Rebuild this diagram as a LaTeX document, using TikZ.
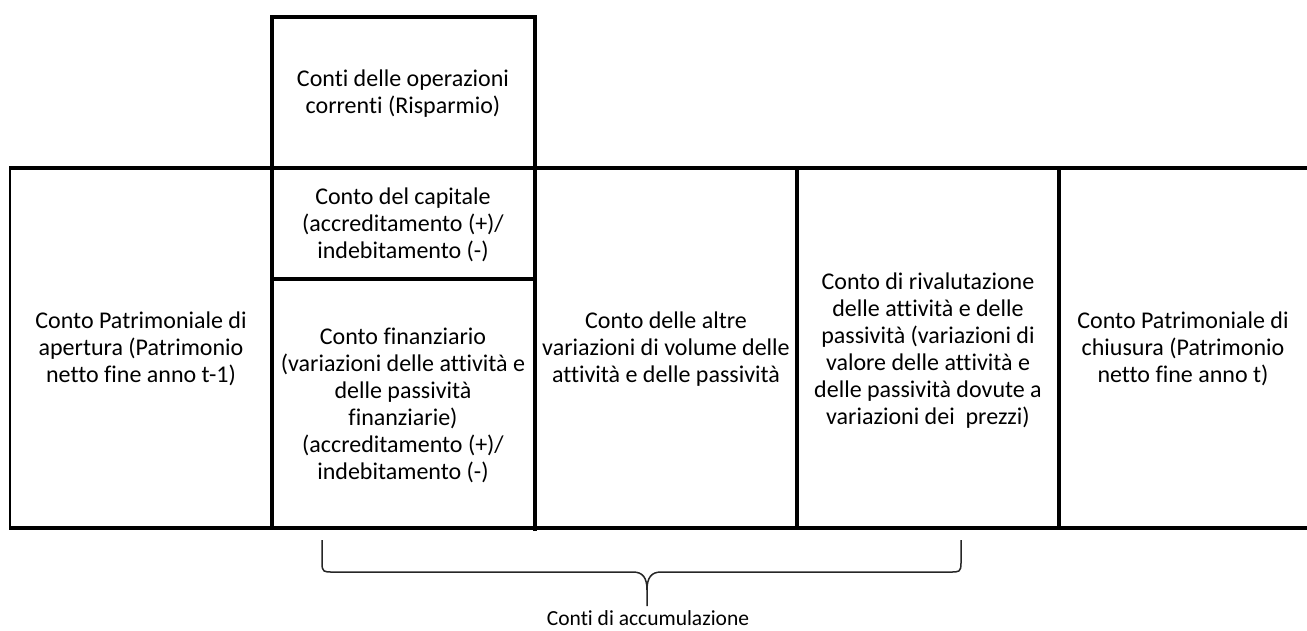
\documentclass[tikz,border=0pt]{standalone}
\usepackage{fontspec}
\setmainfont{Carlito}[Ligatures=NoCommon]
\begin{document}
\begin{tikzpicture}[x=1pt,y=-1pt,
  thickline/.style={line width=4pt, line cap=butt},
  thinline/.style={line width=2pt, line cap=butt},
  celltext/.style={align=center, font=\fontsize{24}{27}\selectfont, inner sep=0pt},
  labeltext/.style={align=center, font=\fontsize{21.5}{25}\selectfont, inner sep=0pt},
  bracestyle/.style={line width=1.5pt, line join=round, draw=black!85}]
\useasboundingbox (0,0) rectangle (1307,630);
% frame lines
\draw[thinline] (10,166) -- (10,530);
\draw[thickline] (9,168) -- (1307,168);
\draw[thickline] (9,528) -- (1307,528);
\draw[thickline] (272,15) -- (272,530);
\draw[thickline] (535,15) -- (535,531);
\draw[thickline] (797,166) -- (797,530);
\draw[thickline] (1059,166) -- (1059,530);
\draw[thickline] (270,17) -- (537,17);
\draw[thickline] (272,279) -- (535,279);
% texts
\node[celltext] (open) at (141,349) {Conto Patrimoniale di\\apertura (Patrimonio\\netto fine anno t-1)};
\node[celltext] (curr) at (403,94) {Conti delle operazioni\\correnti (Risparmio)};
\node[celltext] (cap) at (403,225) {Conto del capitale\\(accreditamento (+)/\\indebitamento (-)};
\node[celltext] (fin) at (403,405) {Conto finanziario\\(variazioni delle attività e\\delle passività\\finanziarie)\\(accreditamento (+)/\\indebitamento (-)};
\node[celltext] (vol) at (666,349) {Conto delle altre\\variazioni di volume delle\\attività e delle passività};
\node[celltext] (riv) at (928,351) {Conto di rivalutazione\\delle attività e delle\\passività (variazioni di\\valore delle attività e\\delle passività dovute a\\variazioni dei\ \ prezzi)};
\node[celltext] (close) at (1183,349) {Conto Patrimoniale di\\chiusura (Patrimonio\\netto fine anno t)};
% brace
\coordinate (bl) at (322,540);
\coordinate (br) at (961,540);
\coordinate (tip) at (647,606);
\draw[bracestyle] (bl) -- (322,563) .. controls (322,572) and (324,572) .. (332,572) -- (633,572) .. controls (643,572) and (647,578) .. (647,590) -- (tip);
\draw[bracestyle] (br) -- (961,563) .. controls (961,572) and (959,572) .. (951,572) -- (661,572) .. controls (651,572) and (647,578) .. (647,590);
\node[labeltext] (acc) at (648,618) {Conti di accumulazione};
\end{tikzpicture}
\end{document}
